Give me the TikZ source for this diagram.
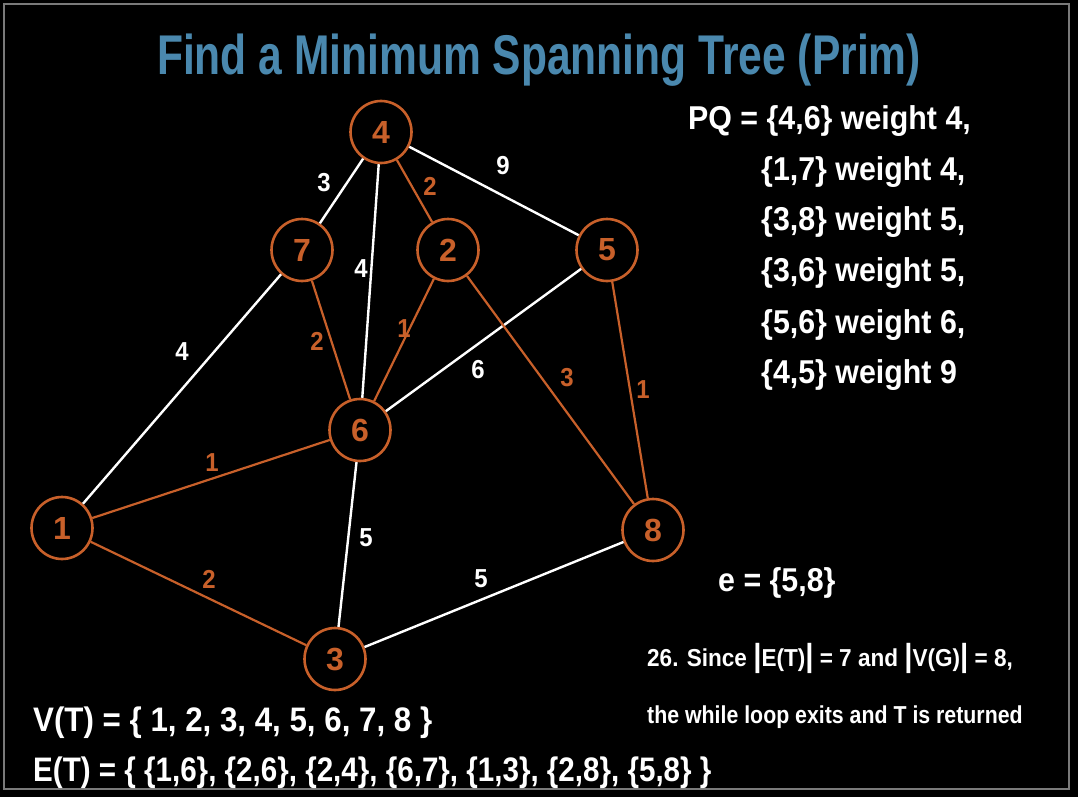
\documentclass[tikz,border=0pt]{standalone}
\usepackage{fontspec}
\newfontfamily\cond{Liberation Sans}[FakeStretch=0.76]
\newfontfamily\condb{Liberation Sans}[FakeStretch=0.92]
\newfontfamily\condc{Liberation Sans}[FakeStretch=0.87]
\newfontfamily\plain{Liberation Sans}
\definecolor{bgblack}{HTML}{000000}
\definecolor{myorange}{HTML}{C8602A}
\definecolor{titleblue}{HTML}{4A88AE}
\definecolor{framegray}{HTML}{7A7A7A}
\tikzset{
  vert/.style={ellipse, draw=myorange, line width=2.6pt, minimum width=61pt, minimum height=62pt, inner sep=0pt,
    text=myorange, font=\plain\bfseries\fontsize{32}{32}\selectfont},
  wedge/.style={draw=white, line width=2.4pt},
  oedge/.style={draw=myorange, line width=2.2pt},
  wlbl/.style={text=white, font=\condb\bfseries\fontsize{26}{26}\selectfont, inner sep=0pt},
  olbl/.style={text=myorange, font=\condb\bfseries\fontsize{26}{26}\selectfont, inner sep=0pt},
  txt/.style={text=white, inner sep=0pt, anchor=base west},
}
\usetikzlibrary{shapes.geometric}
\begin{document}
\begin{tikzpicture}[x=1pt,y=-1pt]
\useasboundingbox (0,0) rectangle (1078,797);
\fill[bgblack] (0,0) rectangle (1078,797);
\draw[framegray, line width=1.6pt] (4,4) rectangle (1069,789);
\node[text=titleblue, font=\cond\bfseries\fontsize{56}{56}\selectfont, inner sep=0pt] (title) at (539,60) {Find a Minimum Spanning Tree (Prim)};

\node[vert] (n4) at (381,132) {4};
\node[vert] (n7) at (302,250) {7};
\node[vert] (n2) at (448,250) {2};
\node[vert] (n5) at (607,250) {5};
\node[vert] (n6) at (360,430) {6};
\node[vert] (n1) at (62,528) {1};
\node[vert] (n8) at (653,530) {8};
\node[vert] (n3) at (335,659) {3};

\draw[wedge] (n4) -- (n7);
\draw[wedge] (n4) -- (n6);
\draw[wedge] (n4) -- (n5);
\draw[wedge] (n7) -- (n1);
\draw[wedge] (n5) -- (n6);
\draw[wedge] (n6) -- (n3);
\draw[wedge] (n3) -- (n8);
\draw[oedge] (n4) -- (n2);
\draw[oedge] (n7) -- (n6);
\draw[oedge] (n2) -- (n6);
\draw[oedge] (n2) -- (n8);
\draw[oedge] (n5) -- (n8);
\draw[oedge] (n1) -- (n6);
\draw[oedge] (n1) -- (n3);

\node[wlbl] (l47) at (324,183) {3};
\node[olbl] (l42) at (430,186) {2};
\node[wlbl] (l45) at (503,166) {9};
\node[wlbl] (l46) at (361,269) {4};
\node[olbl] (l76) at (317,341) {2};
\node[olbl] (l26) at (404,329) {1};
\node[wlbl] (l71) at (182,352) {4};
\node[wlbl] (l56) at (478,370) {6};
\node[olbl] (l28) at (567,378) {3};
\node[olbl] (l58) at (643,390) {1};
\node[olbl] (l16) at (212,463) {1};
\node[wlbl] (l63) at (366,538) {5};
\node[olbl] (l13) at (209,579) {2};
\node[wlbl] (l38) at (481,579) {5};

\begin{scope}[every node/.style={txt, font=\condb\bfseries\fontsize{33}{33}\selectfont}]
\node (pq1) at (688,130) {PQ = \{4,6\} weight 4,};
\node (pq2) at (761,180) {\{1,7\} weight 4,};
\node (pq3) at (761,230) {\{3,8\} weight 5,};
\node (pq4) at (761,281) {\{3,6\} weight 5,};
\node (pq5) at (761,333) {\{5,6\} weight 6,};
\node (pq6) at (761,383) {\{4,5\} weight 9};
\node (e) at (718,591) {e = \{5,8\}};
\end{scope}
\begin{scope}[every node/.style={txt, font=\condb\bfseries\fontsize{24.5}{24.5}\selectfont}]
\node (s1) at (647,666) {26. Since {\fontsize{32}{32}\selectfont|}E(T){\fontsize{32}{32}\selectfont|} = 7 and {\fontsize{32}{32}\selectfont|}V(G){\fontsize{32}{32}\selectfont|} = 8,};
\node[font=\condc\bfseries\fontsize{24.5}{24.5}\selectfont] (s2) at (647,723) {the while loop exits and T is returned};
\end{scope}
\begin{scope}[every node/.style={txt, font=\condb\bfseries\fontsize{34}{34}\selectfont}]
\node (vt) at (33,731) {V(T) = \{ 1, 2, 3, 4, 5, 6, 7, 8 \}};
\node[font=\condc\bfseries\fontsize{34}{34}\selectfont] (et) at (33,781) {E(T) = \{ \{1,6\}, \{2,6\}, \{2,4\}, \{6,7\}, \{1,3\}, \{2,8\}, \{5,8\} \}};
\end{scope}
\end{tikzpicture}
\end{document}
